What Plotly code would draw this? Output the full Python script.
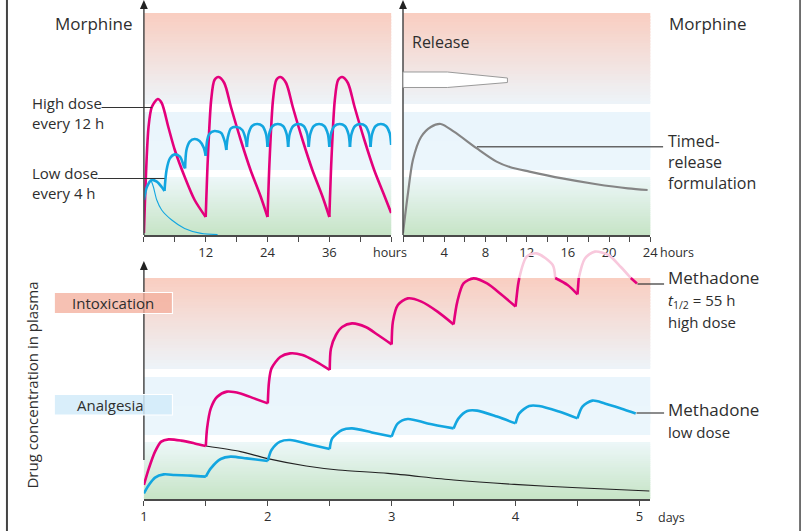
import plotly.graph_objects as go

W, H = 810, 531

# ---------------- data (concentration in arbitrary units) ----------------
# Morphine, high dose every 12 h  (hours)
morph_high_t = [0, 0.9, 1.54, 2.69, 3.46, 4.74, 6.0, 7.93, 9.85, 12,
                12.4, 13.06, 13.7, 14.5, 15.6, 16.9, 18.8, 20.7, 22.7, 24,
                24.4, 25.06, 25.7, 26.5, 27.6, 28.9, 30.8, 32.7, 34.7, 36,
                36.4, 37.06, 37.7, 38.5, 39.6, 40.9, 42.8, 44.7, 46.7, 48]
morph_high_c = [1, 54, 64, 68, 66, 54, 42.5, 29, 17.5, 9,
                37.5, 67.5, 77.5, 79, 76, 64, 47.5, 32.5, 19, 9,
                37.5, 67.5, 77.5, 79, 76, 64, 47.5, 32.5, 19, 9,
                37.5, 67.5, 77.5, 79, 76, 64, 47.5, 32.5, 19.5, 11]
morph_high_doses = [12, 24, 36]

# Morphine, low dose every 4 h
morph_low_t = [0, 0.58, 1.5, 2.5, 3.46, 4,
               4.4, 5.05, 6.0, 7.0, 7.8, 8,
               8.26, 8.9, 9.85, 10.8, 11.6, 12,
               12.3, 12.7, 13.7, 15.0, 15.7, 16,
               16.3, 16.9, 18.0, 19.1, 19.7, 20,
               20.3, 21, 22, 23, 23.7, 24,
               24.3, 25, 26, 27, 27.7, 28,
               28.3, 29, 30, 31, 31.7, 32,
               32.3, 33, 34, 35, 35.7, 36,
               36.3, 37, 38, 39, 39.7, 40,
               40.3, 41, 42, 43, 43.7, 44,
               44.3, 45, 46, 47, 47.7, 48]
morph_low_c = [17.5, 24, 27.5, 26.7, 24, 22,
               32.5, 38.3, 40.3, 39.2, 34.2, 33.3,
               42.5, 46.7, 48, 47, 43.8, 39.6,
               47.5, 50.5, 52, 51, 46.7, 42.5,
               49, 53.3, 54, 52.5, 48.5, 44,
               50.5, 54.5, 55.5, 54.5, 50.5, 44,
               50.5, 54.5, 55.5, 54.5, 50.5, 44,
               50.5, 54.5, 55.5, 54.5, 50.5, 44,
               50.5, 54.5, 55.5, 54.5, 50.5, 44,
               50.5, 54.5, 55.5, 54.5, 50.5, 44,
               50.5, 54.5, 55.5, 54.5, 50.5, 44,
               50.5, 54.5, 55.5, 54.5, 51, 45]
morph_low_doses = [4, 8, 12, 16, 20, 24, 28, 32, 36, 40, 44]

# single low dose, elimination only
morph_single_t = [1.45, 1.85, 2.5, 3.45, 5.4, 7.9, 11.1, 14.3]
morph_single_c = [27, 24, 17.5, 12.5, 7.5, 3.3, 0.8, 0.2]

# Timed-release morphine (hours 0-24)
timed_t = [0, 0.48, 0.96, 1.75, 2.7, 3.66, 4.94, 7.17, 9.08, 10.36,
           12.27, 15.46, 18.64, 21.83, 23.74]
timed_c = [1, 20.8, 37.5, 49, 54, 55.5, 51.7, 43.3, 36.7, 34,
           31.7, 28.3, 25.5, 23.3, 22.5]

# Methadone high dose (days)
meth_high_t = [1.0, 1.04, 1.09, 1.14, 1.2, 1.3, 1.41, 1.5,
               1.51, 1.54, 1.59, 1.67, 1.78, 1.89, 2.0,
               2.01, 2.03, 2.1, 2.18, 2.28, 2.39, 2.5,
               2.51, 2.55, 2.6, 2.68, 2.79, 2.89, 3.0,
               3.01, 3.05, 3.13, 3.24, 3.37, 3.5,
               3.53, 3.58, 3.66, 3.77, 3.89, 4.0,
               4.02, 4.03, 4.09, 4.17, 4.3, 4.32, 4.42, 4.5,
               4.51, 4.56, 4.64, 4.75, 4.85, 4.93, 4.98]
meth_high_c = [7, 15.3, 23.7, 28.7, 29.8, 29.2, 27.8, 26.5,
               35.3, 45.3, 51, 53.7, 52.8, 50.3, 47.8,
               58.7, 65.3, 71, 72.8, 72, 68.7, 64.5,
               75.3, 82, 86, 87.8, 86, 82, 77.3,
               88.7, 97, 100.3, 98.7, 93.7, 87.3,
               98.7, 107.8, 110.3, 107.8, 102, 96.2,
               107, 110.5, 121.2, 122.8, 117, 110.5, 107, 102.3,
               110.5, 120.3, 123.7, 122, 116, 110.5, 107.8]

# Methadone low dose (days)
meth_low_t = [1.0, 1.04, 1.09, 1.16, 1.25, 1.38, 1.5,
              1.54, 1.62, 1.7, 1.83, 2.0,
              2.03, 2.1, 2.18, 2.34, 2.5,
              2.52, 2.6, 2.68, 2.84, 3.0,
              3.05, 3.13, 3.29, 3.5,
              3.54, 3.61, 3.69, 3.85, 4.0,
              4.03, 4.11, 4.19, 4.35, 4.5,
              4.54, 4.62, 4.72, 4.85, 4.97]
meth_low_c = [2.8, 7, 10.7, 12.3, 12, 11.7, 11.2,
              15.3, 20, 21.2, 20.3, 19,
              24.5, 28.7, 29.5, 27.3, 25,
              30.3, 34.5, 35.3, 33.3, 31.2,
              37.8, 40, 37.8, 35.3,
              40.3, 44, 44.2, 41.2, 37.8,
              42.8, 46.5, 46.5, 43.7, 40.3,
              46.2, 49.2, 47.8, 45.3, 42.8]
meth_doses = [1.5, 2.0, 2.5, 3.0, 3.5, 4.0, 4.5]

# single methadone dose, elimination only
meth_single_t = [1.5, 1.78, 1.99, 2.31, 2.57, 2.97, 3.5, 3.99, 4.5, 5.08]
meth_single_c = [26.5, 23.7, 20.3, 16.5, 14.5, 12.8, 9.5, 7.3, 5.6, 4]

# axis ticks
hours48_ticks = [0, 6, 12, 18, 24, 30, 36, 42, 48]
hours48_text = [" ", " ", "12", " ", "24", " ", "36", " ", " "]
hours24_ticks = [0, 2, 4, 6, 8, 10, 12, 14, 16, 18, 20, 22, 24]
hours24_text = [" ", " ", "4", " ", "8", " ", "12", " ", "16", " ", "20", " ", "24"]
days_ticks = [1, 1.5, 2, 2.5, 3, 3.5, 4, 4.5, 5]
days_text = ["1", " ", "2", " ", "3", " ", "4", " ", "5"]

# therapeutic bands (bottom, top) for upper and lower panels
top_bands = {"tox": (65.5, 111), "analg": (32.5, 61.5), "low": (0, 29)}
bot_bands = {"tox": (65, 110.5), "analg": (32, 61), "low": (0, 28.5)}

MAGENTA = "#e4007c"
MAGENTA_LIGHT = "#f8c8dc"
BLUE = "#13a6e0"
GRAY = "#858585"
AX = "#4a4a4a"
TXT = "#2e2e2e"
FONT = "Open Sans, sans-serif"


def px(x):
    return x / W


def py(y):
    return 1 - y / H


def split_at(ts, cs, cuts):
    # break the line at each dose so the cusps stay sharp
    xs, ys = [], []
    for i, (t, c) in enumerate(zip(ts, cs)):
        xs.append(t)
        ys.append(c)
        if t in cuts and 0 < i < len(ts) - 1:
            xs += [None, t]
            ys += [None, c]
    return xs, ys


def hex2rgb(h):
    h = h.lstrip("#")
    return tuple(int(h[i:i + 2], 16) for i in (0, 2, 4))


def mix(c1, c2, f):
    a, b = hex2rgb(c1), hex2rgb(c2)
    return "rgb(%d,%d,%d)" % tuple(round(a[i] + (b[i] - a[i]) * f) for i in range(3))


def gradient(xr, yr, y0, y1, c_top, c_bot, n=30):
    out = []
    h = (y1 - y0) / n
    for i in range(n):
        top = y1 - i * h
        bot = max(y0, top - h * 1.6)
        out.append(dict(type="rect", xref=xr, yref=yr, x0=0, x1=1, y0=bot, y1=top,
                        fillcolor=mix(c_top, c_bot, (i + 0.5) / n),
                        line=dict(width=0), layer="below"))
    return out


fig = go.Figure()

shapes = []
for xr, yr, bands in [("x domain", "y", top_bands), ("x2 domain", "y2", top_bands),
                      ("x3 domain", "y3", bot_bands)]:
    shapes += gradient(xr, yr, *bands["tox"], "#f9cdc0", "#edf4f9")
    shapes += gradient(xr, yr, *bands["analg"], "#eaf5fc", "#ebf6fc", n=2)
    shapes += gradient(xr, yr, *bands["low"], "#edf7f9", "#c6e4c6")


def line(x0, y0, x1, y1, color=AX, width=1.5):
    return dict(type="line", xref="paper", yref="paper", x0=px(x0), y0=py(y0),
                x1=px(x1), y1=py(y1), line=dict(color=color, width=width))


def arrow_head(x, y):
    path = "M %f %f L %f %f L %f %f Z" % (px(x), py(y), px(x - 4), py(y + 9), px(x + 4), py(y + 9))
    return dict(type="path", xref="paper", yref="paper", path=path,
                fillcolor="#222", line=dict(width=0))


# y axes with arrows
shapes += [line(142, 235, 142, 6), arrow_head(142, 0),
           line(405, 235, 405, 6), arrow_head(405, 0),
           line(142, 460, 142, 268), arrow_head(142, 261)]

# leader lines
shapes += [line(99, 107.5, 150, 107.5, "#333", 1.2),
           line(95, 178.5, 163, 178.5, "#333", 1.2),
           line(480, 146.7, 669, 146.7, "#666", 1.5),
           line(643, 284, 670, 284, "#333", 1.2),
           line(642, 413, 670, 413, "#666", 1.5)]

# frame
shapes += [line(3, 0, 3, 531, "#444", 2), line(808, 0, 808, 531, "#444", 1.5)]

# release "capsule"
cap = "M %f %f L %f %f L %f %f L %f %f L %f %f L %f %f Z" % (
    px(405), py(72), px(450), py(72), px(511), py(78),
    px(511), py(82.5), px(450), py(87.5), px(405), py(87.5))
shapes.append(dict(type="path", xref="paper", yref="paper", path=cap,
                   fillcolor="white", line=dict(color="#9a9a9a", width=1)))

# legend boxes in the lower panel
shapes.append(dict(type="rect", xref="paper", yref="paper", x0=px(51), x1=px(171),
                   y0=py(313.5), y1=py(292.5), fillcolor="rgba(243,176,158,0.78)",
                   line=dict(color="white", width=1.2)))
shapes.append(dict(type="rect", xref="paper", yref="paper", x0=px(51), x1=px(171),
                   y0=py(415), y1=py(394.5), fillcolor="rgba(210,235,249,0.85)",
                   line=dict(color="white", width=1.2)))

# ---------------- traces ----------------
x, y = split_at(morph_high_t, morph_high_c, morph_high_doses)
fig.add_trace(go.Scatter(x=x, y=y, xaxis="x", yaxis="y", mode="lines",
                         line=dict(color=MAGENTA, width=2.6, shape="spline", smoothing=0.8)))
fig.add_trace(go.Scatter(x=morph_single_t, y=morph_single_c, xaxis="x", yaxis="y", mode="lines",
                         line=dict(color=BLUE, width=1.1, shape="spline", smoothing=0.8)))
x, y = split_at(morph_low_t, morph_low_c, morph_low_doses)
fig.add_trace(go.Scatter(x=x, y=y, xaxis="x", yaxis="y", mode="lines",
                         line=dict(color=BLUE, width=2.6, shape="spline", smoothing=0.8)))

fig.add_trace(go.Scatter(x=timed_t, y=timed_c, xaxis="x2", yaxis="y2", mode="lines",
                         line=dict(color=GRAY, width=2.2, shape="spline", smoothing=0.8)))

fig.add_trace(go.Scatter(x=meth_single_t, y=meth_single_c, xaxis="x3", yaxis="y3", mode="lines",
                         line=dict(color="#222", width=1.1, shape="spline", smoothing=0.8)))
x, y = split_at(meth_low_t, meth_low_c, meth_doses)
fig.add_trace(go.Scatter(x=x, y=y, xaxis="x3", yaxis="y3", mode="lines",
                         line=dict(color=BLUE, width=2.6, shape="spline", smoothing=0.8)))

x, y = split_at(meth_high_t, meth_high_c, meth_doses)
limit = bot_bands["tox"][1]
y_dark = [v if v is not None and v <= limit else None for v in y]
y_light = [v if v is not None and v >= limit else None for v in y]
fig.add_trace(go.Scatter(x=x, y=y_light, xaxis="x3", yaxis="y3", mode="lines",
                         line=dict(color=MAGENTA_LIGHT, width=2.6, shape="spline", smoothing=0.8)))
fig.add_trace(go.Scatter(x=x, y=y_dark, xaxis="x3", yaxis="y3", mode="lines",
                         line=dict(color=MAGENTA, width=2.6, shape="spline", smoothing=0.8)))

# ---------------- text ----------------
def label(text, x, y, size=15, anchor="left", **kw):
    return dict(text=text, x=px(x), y=py(y), xref="paper", yref="paper",
                xanchor=anchor, yanchor="middle", align="left", showarrow=False,
                font=dict(family=FONT, size=size, color=TXT), **kw)


small = "<span style='font-size:15px'>%s</span>"
annotations = [
    label("Morphine", 50, 23, 17),
    label("Morphine", 673, 23, 17),
    label("Release", 412, 42, 16),
    label("High dose<br>every 12 h", 26, 112.5, 15),
    label("Low dose<br>every 4 h", 26, 183, 15),
    label("Timed-<br>release<br>formulation", 672, 162, 16),
    label("Methadone<br>" + small % "<i>t</i><sub>1/2</sub> = 55 h" + "<br>" + small % "high dose",
          672, 299, 17),
    label("Methadone<br>" + small % "low dose", 672, 420, 17),
    label("Intoxication", 111, 303, 15, anchor="center"),
    label("Analgesia", 108, 405, 15, anchor="center"),
    label("Drug concentration in plasma", 28, 385, 15, anchor="center", textangle=-90),
    label("hours", 392, 252, 12.5, anchor="center"),
    label("hours", 664, 252, 12.5),
    label("days", 662, 517, 12.5),
]

axis_common = dict(showline=True, linecolor=AX, linewidth=1.5, ticks="outside",
                   ticklen=5, tickwidth=1.2, tickcolor=AX, showgrid=False,
                   zeroline=False, fixedrange=True,
                   tickfont=dict(family=FONT, size=13, color=TXT))
yaxis_common = dict(visible=False, fixedrange=True, showgrid=False, zeroline=False)

fig.update_layout(
    width=W, height=H, margin=dict(l=0, r=0, t=0, b=0),
    paper_bgcolor="white", plot_bgcolor="white",
    showlegend=False, hovermode=False,
    xaxis=dict(domain=[px(142), px(393)], range=[0, 48], anchor="y",
               tickvals=hours48_ticks, ticktext=hours48_text, **axis_common),
    yaxis=dict(domain=[py(235), 1], range=[0, 117.5], anchor="x", **yaxis_common),
    xaxis2=dict(domain=[px(405), px(656)], range=[0, 24], anchor="y2",
                tickvals=hours24_ticks, ticktext=hours24_text, **axis_common),
    yaxis2=dict(domain=[py(235), 1], range=[0, 117.5], anchor="x2", **yaxis_common),
    xaxis3=dict(domain=[px(142), px(656)], range=[1, 5.0875], anchor="y3",
                tickvals=days_ticks, ticktext=days_text, **axis_common),
    yaxis3=dict(domain=[py(499), py(245)], range=[0, 127], anchor="x3", **yaxis_common),
    shapes=shapes,
    annotations=annotations,
)

# page body has a default 8px margin; drop it so the figure sits at the window origin
fig.write_html("out.html", config={"displayModeBar": False},
               post_script="document.body.style.margin='0';document.body.style.overflow='hidden';")
